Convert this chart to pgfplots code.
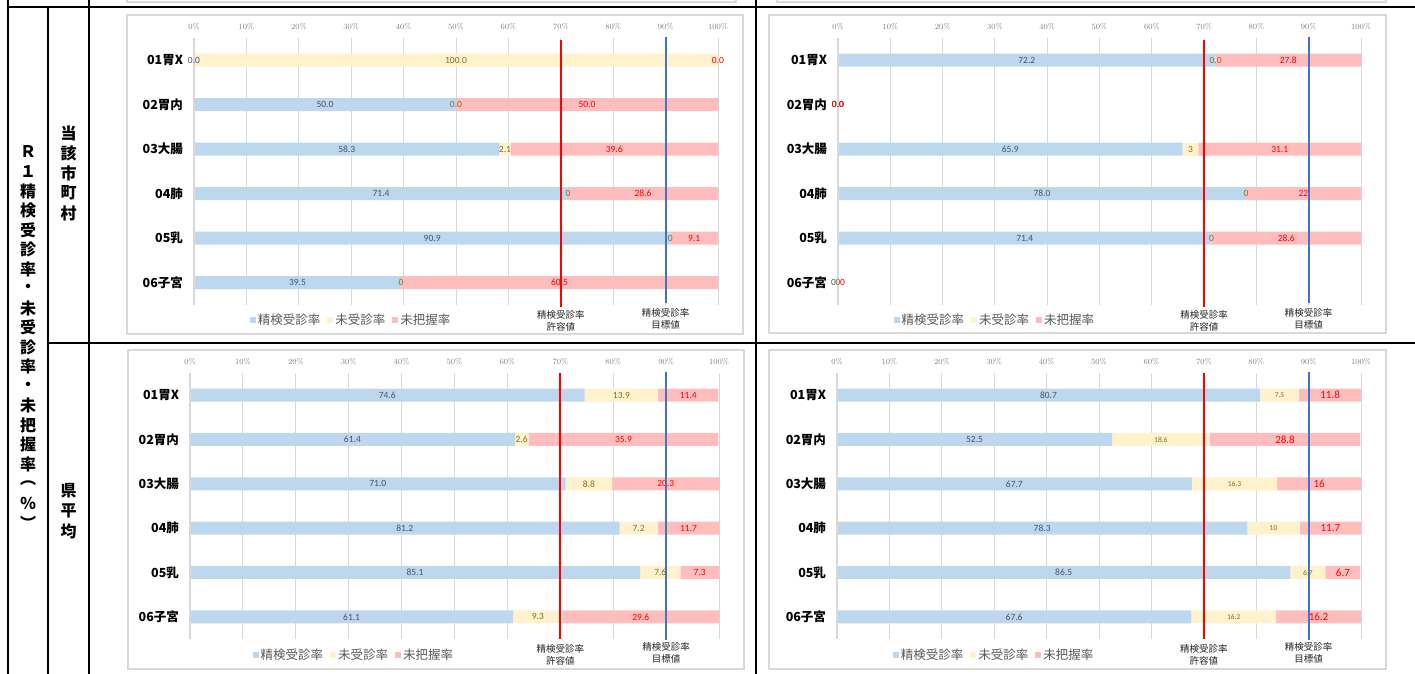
\documentclass[border=0pt]{standalone}
\usepackage{pgfplots}
\pgfplotsset{compat=1.18}
\usepackage{pgfplotstable}
\usepackage{fontspec}
\newfontfamily\jp{Noto Sans CJK JP}
\newfontfamily\cali{Carlito}

\definecolor{cA}{HTML}{BDD7EE}
\definecolor{cB}{HTML}{FFF2CC}
\definecolor{cC}{HTML}{FFBDBD}
\definecolor{tA}{HTML}{44546A}
\definecolor{tB}{HTML}{8A6D1F}
\definecolor{tC}{HTML}{FF0000}
\definecolor{gridgrey}{HTML}{D9D9D9}
\definecolor{ticktext}{HTML}{808080}
\definecolor{legtext}{HTML}{595959}
\definecolor{goal}{HTML}{4472C4}

% 当該市町村 (left / right), 県平均 (left / right)
\pgfplotstableread{
cat a b c
1 0.0 100.0 0.0
2 50.0 0.0 50.0
3 58.3 2.1 39.6
4 71.4 0 28.6
5 90.9 0 9.1
6 39.5 0 60.5
}\tabTL
\pgfplotstableread{
cat a b c
1 72.2 0.0 27.8
2 0.0 0.0 0.0
3 65.9 3 31.1
4 78.0 0 22
5 71.4 0 28.6
6 0 0 0
}\tabTR
\pgfplotstableread{
cat a b c
1 74.6 13.9 11.4
2 61.4 2.6 35.9
3 71.0 8.8 20.3
4 81.2 7.2 11.7
5 85.1 7.6 7.3
6 61.1 9.3 29.6
}\tabBL
\pgfplotstableread{
cat a b c
1 80.7 7.5 11.8
2 52.5 18.6 28.8
3 67.7 16.3 16
4 78.3 10 11.7
5 86.5 6.7 6.7
6 67.6 16.2 16.2
}\tabBR

\tikzset{lab/.style={anchor=north, align=center, font=\jp\fontsize{9.5}{12}\selectfont, text=black!85}}

\pgfplotsset{
  panel/.style={
    xbar stacked, scale only axis, anchor=north west,
    height=267pt, xmin=0, xmax=100, ymin=0.5, ymax=6.5, y dir=reverse,
    bar width=13pt, clip=false,
    axis line style={draw=none}, major tick length=0pt,
    xtick={0,10,...,100},
    xticklabels={0\%,10\%,20\%,30\%,40\%,50\%,60\%,70\%,80\%,90\%,100\%},
    xticklabel pos=upper,
    xticklabel style={font=\rmfamily\fontsize{8}{9}\selectfont, text=ticktext, yshift=4.5pt},
    xmajorgrids, ymajorgrids=false,
    major grid style={draw=gridgrey, line width=1pt},
    ytick={1,...,6},
    yticklabels={01胃X,02胃内,03大腸,04肺,05乳,06子宮},
    yticklabel style={font=\jp\bfseries\fontsize{12.5}{13}\selectfont, text=black, xshift=-7.5pt},
    legend style={draw=none, fill=none, legend columns=-1,
      font=\jp\fontsize{12.5}{13}\selectfont, text=legtext,
      /tikz/every even column/.append style={column sep=5pt}},
    legend image code/.code={\draw[##1,draw=none] (0pt,-3pt) rectangle (6pt,3pt);},
  },
  over/.style={scale only axis, anchor=north west, height=267pt,
    xmin=0, xmax=100, ymin=0.5, ymax=6.5, y dir=reverse, hide axis, clip=false},
  seg/.style 2 args={
    fill=#1, draw=none,
    nodes near coords, point meta=explicit symbolic,
    every node near coord/.append style={anchor=center, text=#2,
      font=\cali\fontsize{9.5}{10}\selectfont},
  },
  % labels of the zero-width segments (not drawn by the stacked bars)
  zl/.style 2 args={
    only marks, mark=*, mark size=0pt,
    mark options={draw=none, fill=none},
    scatter/use mapped color={draw=none, fill=none},
    nodes near coords, point meta=explicit symbolic,
    every node near coord/.append style={anchor=center, text=#1, xshift=#2,
      font=\cali\fontsize{9.5}{10}\selectfont},
  },
}

\begin{document}
\begin{tikzpicture}[x=1pt,y=1pt]
\useasboundingbox (0,0) rectangle (1415,674);

% table frame
\begin{scope}[line width=2pt]
\draw (8,0) -- (8,674);
\draw (48,0) -- (48,667);
\draw (89,0) -- (89,674);
\draw (756,0) -- (756,674);
\draw (8,667) -- (1415,667);
\draw (48,331) -- (1415,331);
\end{scope}

\foreach \c [count=\i from 0] in {Ｒ,１,精,検,受,診,率,・,未,受,診,率,・,未,把,握,率,︵,％,︶}
  \node[font=\jp\bfseries\fontsize{16}{16}\selectfont] at (28,{674-152-19.5*\i}) {\c};
\foreach \c [count=\i from 0] in {当,該,市,町,村}
  \node[font=\jp\bfseries\fontsize{16}{16}\selectfont] at (68.5,{674-133-20*\i}) {\c};
\foreach \c [count=\i from 0] in {県,平,均}
  \node[font=\jp\bfseries\fontsize{16}{16}\selectfont] at (68.5,{674-491-20*\i}) {\c};

% chart frames
\begin{scope}[draw=gridgrey, line width=1.2pt]
\draw (127,674) -- (127,672) -- (736,672) -- (736,674);
\draw (777,674) -- (777,672) -- (1386,672) -- (1386,674);
\draw (127,659) rectangle (743,340);
\draw (769,659) rectangle (1386,341);
\draw (128,324) rectangle (744,5);
\draw (769,324) rectangle (1386,5);
\end{scope}

% ---- top left
\begin{axis}[panel, at={(194pt,636pt)}, width=524pt,
  legend style={at={(0.30,-0.056)}, anchor=center}]
\addplot[seg={cA}{tA}] table[x=a,y=cat,meta=a]{\tabTL};
\addplot[seg={cB}{tB}] table[x=b,y=cat,meta=b]{\tabTL};
\addplot[seg={cC}{tC}] table[x=c,y=cat,meta=c]{\tabTL};
\legend{精検受診率,未受診率,未把握率}
\end{axis}
\begin{axis}[over, at={(194pt,636pt)}, width=524pt]
\addplot[gridgrey, line width=1.5pt] coordinates {(0,0.5) (0,6.5)};
\addplot[red, line width=2pt] coordinates {(70,0.55) (70,6.55)};
\addplot[goal, line width=1.8pt] coordinates {(90,0.47) (90,6.45)};
\addplot[zl={tA}{0pt}] coordinates {(0,1) [0.0]};
\addplot[zl={tB}{0pt}] coordinates {(50,2) [0.0] (71.4,4) [0] (90.9,5) [0] (39.5,6) [0]};
\addplot[zl={tC}{0pt}] coordinates {(100,1) [0.0]};
\node[lab, yshift=-2pt] at (axis cs:70,6.5) {精検受診率\\許容値};
\node[lab] at (axis cs:90,6.5) {精検受診率\\目標値};
\end{axis}

% ---- top right
\begin{axis}[panel, at={(838pt,636pt)}, width=523pt,
  legend style={at={(0.30,-0.056)}, anchor=center}]
\addplot[seg={cA}{tA}] table[x=a,y=cat,meta=a]{\tabTR};
\addplot[seg={cB}{tB}] table[x=b,y=cat,meta=b]{\tabTR};
\addplot[seg={cC}{tC}] table[x=c,y=cat,meta=c]{\tabTR};
\legend{精検受診率,未受診率,未把握率}
\end{axis}
\begin{axis}[over, at={(838pt,636pt)}, width=523pt]
\addplot[gridgrey, line width=1.5pt] coordinates {(0,0.5) (0,6.5)};
\addplot[red, line width=2pt] coordinates {(70,0.55) (70,6.55)};
\addplot[goal, line width=1.8pt] coordinates {(90,0.47) (90,6.45)};
\addplot[zl={tA}{0pt}] coordinates {(0,2) [0.0]};
\addplot[zl={tB}{0pt}] coordinates {(72.2,1) [0.0] (0,2) [0.0] (78.0,4) [0] (71.4,5) [0]};
\addplot[zl={tC}{0pt}] coordinates {(0,2) [0.0]};
\addplot[zl={tA}{-4.5pt}] coordinates {(0,6) [0]};
\addplot[zl={tB}{0pt}] coordinates {(0,6) [0]};
\addplot[zl={tC}{4.5pt}] coordinates {(0,6) [0]};
\node[lab, yshift=-2pt] at (axis cs:70,6.5) {精検受診率\\許容値};
\node[lab] at (axis cs:90,6.5) {精検受診率\\目標値};
\end{axis}

% ---- bottom left
\begin{axis}[panel, at={(190pt,301pt)}, width=529pt, height=266pt,
  legend style={at={(0.31,-0.06)}, anchor=center}]
\addplot[seg={cA}{tA}] table[x=a,y=cat,meta=a]{\tabBL};
\addplot[seg={cB}{tB}] table[x=b,y=cat,meta=b]{\tabBL};
\addplot[seg={cC}{tC}] table[x=c,y=cat,meta=c]{\tabBL};
\legend{精検受診率,未受診率,未把握率}
\end{axis}
\begin{axis}[over, at={(190pt,301pt)}, width=529pt, height=266pt]
\addplot[gridgrey, line width=1.5pt] coordinates {(0,0.5) (0,6.5)};
\addplot[red, line width=2pt] coordinates {(70,0.5) (70,6.5)};
\addplot[goal, line width=1.8pt] coordinates {(90,0.47) (90,6.52)};
\node[lab, yshift=-2pt] at (axis cs:70,6.5) {精検受診率\\許容値};
\node[lab] at (axis cs:90,6.5) {精検受診率\\目標値};
\end{axis}

% ---- bottom right
\begin{axis}[panel, at={(837pt,301pt)}, width=524pt, height=266pt,
  legend style={at={(0.30,-0.06)}, anchor=center}]
\addplot[seg={cA}{tA}] table[x=a,y=cat,meta=a]{\tabBR};
\addplot[seg={cB}{tB}, every node near coord/.append style={font=\cali\fontsize{7.5}{8}\selectfont}] table[x=b,y=cat,meta=b]{\tabBR};
\addplot[seg={cC}{tC}, every node near coord/.append style={font=\cali\fontsize{11}{12}\selectfont}] table[x=c,y=cat,meta=c]{\tabBR};
\legend{精検受診率,未受診率,未把握率}
\end{axis}
\begin{axis}[over, at={(837pt,301pt)}, width=524pt, height=266pt]
\addplot[gridgrey, line width=1.5pt] coordinates {(0,0.5) (0,6.5)};
\addplot[red, line width=2pt] coordinates {(70,0.5) (70,6.5)};
\addplot[goal, line width=1.8pt] coordinates {(90,0.47) (90,6.52)};
\node[lab, yshift=-2pt] at (axis cs:70,6.5) {精検受診率\\許容値};
\node[lab] at (axis cs:90,6.5) {精検受診率\\目標値};
\end{axis}

\end{tikzpicture}
\end{document}
